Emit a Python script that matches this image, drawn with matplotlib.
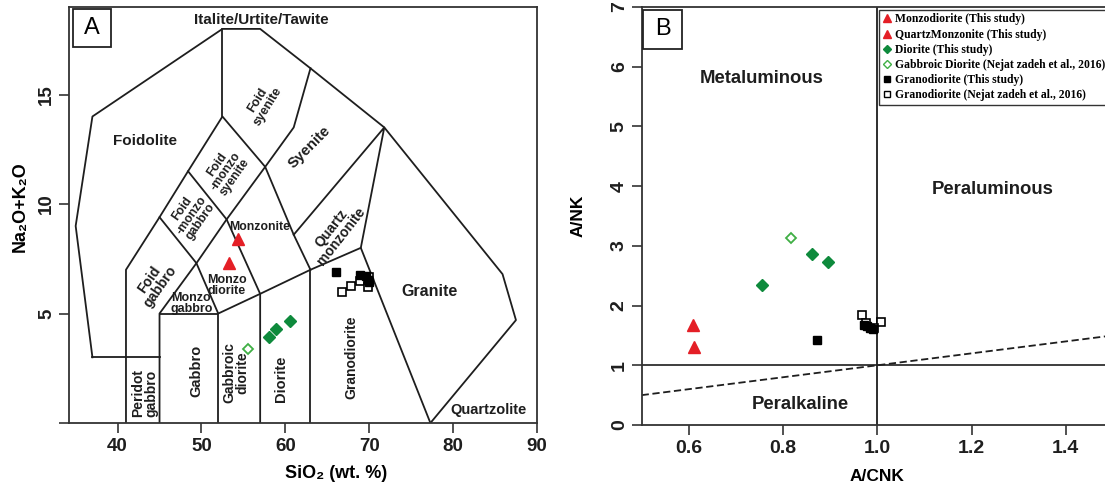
import matplotlib
matplotlib.use("Agg")
from matplotlib import pyplot as plt
from matplotlib.lines import Line2D
from matplotlib.patches import Rectangle

plt.rcParams['font.family'] = ['Liberation Sans', 'DejaVu Sans']
plt.rcParams['font.weight'] = 'bold'
plt.rcParams['axes.labelweight'] = 'bold'

# --- TAS (plutonic) field boundaries, SiO2 vs Na2O+K2O ---
tas_lines = [
    [(37, 3), (35, 9), (37, 14), (52.5, 18), (57, 18), (63, 16.2), (71.8, 13.5), (85.9, 6.8), (87.5, 4.7), (77.3, 0)],
    [(37, 3), (45, 3)],
    [(41, 0), (41, 7), (45, 9.4), (48.4, 11.5), (52.5, 14), (57.6, 11.7), (61, 8.6), (63, 7)],
    [(52.5, 14), (52.5, 18)],
    [(45, 0), (45, 5), (49.4, 7.3), (53, 9.3), (57.6, 11.7), (61, 13.5), (63, 16.2)],
    [(45, 9.4), (49.4, 7.3), (52, 5), (57, 5.9), (63, 7), (69, 8), (77.3, 0)],
    [(48.4, 11.5), (53, 9.3), (57, 5.9), (57, 0)],
    [(45, 5), (52, 5), (52, 0)],
    [(63, 0), (63, 7)],
    [(61, 8.6), (71.8, 13.5), (69, 8)],
]

# field names: text, x, y, rotation, size
tas_names = [
    ("Italite/Urtite/Tawite", 57.1, 18.4, 0, 11),
    ("Foidolite", 43.3, 12.9, 0, 11),
    ("Foid\nsyenite", 57.3, 14.6, 58, 9),
    ("Foid\n-monzo\nsyenite", 52.9, 11.5, 55, 8.8),
    ("Foid\n-monzo\ngabbro", 48.8, 9.5, 55, 8.8),
    ("Foid\ngabbro", 44.4, 6.4, 55, 10),
    ("Syenite", 62.9, 12.6, 45, 10.8),
    ("Monzonite", 56.9, 8.95, 0, 8.8),
    ("Monzo\ndiorite", 53.0, 6.3, 0, 9),
    ("Monzo\ngabbro", 48.8, 5.45, 0, 9),
    ("Quartz\nmonzonite", 66.1, 8.7, 52, 10),
    ("Granite", 77.2, 6.0, 0, 11.5),
    ("Granodiorite", 67.9, 3.0, 90, 10),
    ("Diorite", 59.5, 2.0, 90, 10.5),
    ("Gabbroic\ndiorite", 54.1, 2.3, 90, 10),
    ("Gabbro", 49.4, 2.4, 90, 10.5),
    ("Peridot\ngabbro", 43.2, 1.35, 90, 10),
    ("Quartzolite", 84.2, 0.6, 0, 10.5),
]

# --- samples, panel A (SiO2, Na2O+K2O) ---
mzd_sio2 = [53.3]
mzd_alk = [7.3]
qmz_sio2 = [54.3]
qmz_alk = [8.4]
dio_sio2 = [58.1, 58.9, 60.6]
dio_alk = [3.95, 4.3, 4.65]
gdio_sio2 = [55.5]
gdio_alk = [3.4]
grd_sio2 = [66.0, 68.9, 69.6, 70.0, 69.8]
grd_alk = [6.9, 6.75, 6.7, 6.45, 6.55]
grd_nz_sio2 = [66.8, 67.8, 68.9, 70.0, 69.9]
grd_nz_alk = [6.0, 6.25, 6.5, 6.65, 6.2]

# --- samples, panel B (A/CNK, A/NK) ---
mzd_acnk = [0.611]
mzd_ank = [1.31]
qmz_acnk = [0.608]
qmz_ank = [1.67]
dio_acnk = [0.755, 0.862, 0.896]
dio_ank = [2.35, 2.86, 2.73]
gdio_acnk = [0.816]
gdio_ank = [3.14]
grd_acnk = [0.872, 0.971, 0.978, 0.985, 0.99]
grd_ank = [1.42, 1.68, 1.65, 1.62, 1.60]
grd_nz_acnk = [0.967, 1.008, 0.975, 0.992]
grd_nz_ank = [1.84, 1.73, 1.70, 1.62]

legend_labels = [
    "Monzodiorite (This study)",
    "QuartzMonzonite (This study)",
    "Diorite (This study)",
    "Gabbroic Diorite (Nejat zadeh et al., 2016)",
    "Granodiorite (This study)",
    "Granodiorite (Nejat zadeh et al., 2016)",
]

red = '#e41f26'
green = '#0e8a3c'
lgreen = '#3faf44'
ink = '#1e1e1e'

fig = plt.figure(figsize=(11.05, 4.87), dpi=100)

def style_axes(ax, tick_size):
    for s in ax.spines.values():
        s.set_linewidth(1.3)
        s.set_color('#333333')
    ax.tick_params(direction='out', length=7, width=1.2, colors='#333333', labelsize=tick_size,
                   labelcolor=ink)
    ax.tick_params(axis='y', labelrotation=90, pad=3)
    for lab in ax.get_yticklabels():
        lab.set_va('center')

def panel_tag(ax, letter, x0, y0, w, h):
    ax.add_patch(Rectangle((x0, y0), w, h, transform=ax.transAxes, facecolor='white',
                           edgecolor='#222222', lw=1.3, zorder=5, clip_on=False))
    ax.text(x0 + w / 2, y0 + h / 2, letter, transform=ax.transAxes, ha='center', va='center',
            fontsize=17, fontweight='normal', zorder=6)

# ---------------- panel A: TAS ----------------
axA = fig.add_axes([0.0624, 0.1314, 0.4235, 0.8542])
for seg in tas_lines:
    xs = [p[0] for p in seg]
    ys = [p[1] for p in seg]
    axA.plot(xs, ys, color=ink, lw=1.3, zorder=2)
for name, x, y, rot, size in tas_names:
    axA.text(x, y, name, ha='center', va='center', rotation=rot, fontsize=size,
             linespacing=0.9, color=ink, zorder=3)

axA.plot(mzd_sio2, mzd_alk, '^', color=red, ms=8.5, zorder=4)
axA.plot(qmz_sio2, qmz_alk, '^', color=red, ms=8.5, zorder=4)
axA.plot(dio_sio2, dio_alk, 'D', color=green, ms=6, zorder=4)
axA.plot(gdio_sio2, gdio_alk, 'D', mfc='white', mec=lgreen, mew=1.3, ms=5.5, zorder=4)
axA.plot(grd_nz_sio2, grd_nz_alk, 's', mfc='white', mec='black', mew=1.2, ms=5.5, zorder=4)
axA.plot(grd_sio2, grd_alk, 's', color='black', ms=5.5, zorder=4)

axA.set_xlim(34.2, 90)
axA.set_ylim(0, 19)
axA.set_xticks([40, 50, 60, 70, 80, 90])
axA.set_yticks([0, 5, 10, 15])
axA.set_yticklabels(['', '5', '10', '15'])
style_axes(axA, 13.5)
axA.set_xlabel("SiO₂ (wt. %)", fontsize=13)
axA.xaxis.set_label_coords(0.57, -0.1)
axA.set_ylabel("Na₂O+K₂O", fontsize=13)
axA.yaxis.set_label_coords(-0.085, 0.52)
panel_tag(axA, "A", 0.0085, 0.904, 0.0805, 0.0905)

# ---------------- panel B: Shand ----------------
axB = fig.add_axes([0.5807, 0.1273, 0.4265, 0.8583])
axB.axhline(1, color=ink, lw=1.2, zorder=2)
axB.axvline(1, color=ink, lw=1.3, zorder=2)
axB.plot([0.5, 1.5], [0.5, 1.5], color=ink, lw=1.3, ls=(0, (4, 2)), zorder=2)

axB.text(0.755, 5.8, "Metaluminous", ha='center', va='center', fontsize=13.3, color=ink)
axB.text(1.245, 3.94, "Peraluminous", ha='center', va='center', fontsize=13.3, color=ink)
axB.text(0.837, 0.35, "Peralkaline", ha='center', va='center', fontsize=13.3, color=ink)

axB.plot(mzd_acnk, mzd_ank, '^', color=red, ms=8.5, zorder=4)
axB.plot(qmz_acnk, qmz_ank, '^', color=red, ms=8.5, zorder=4)
axB.plot(dio_acnk, dio_ank, 'D', color=green, ms=6, zorder=4)
axB.plot(gdio_acnk, gdio_ank, 'D', mfc='white', mec=lgreen, mew=1.3, ms=5, zorder=4)
axB.plot(grd_nz_acnk, grd_nz_ank, 's', mfc='white', mec='black', mew=1.2, ms=6, zorder=4)
axB.plot(grd_acnk, grd_ank, 's', color='black', ms=6, zorder=4)

axB.set_xlim(0.5, 1.5)
axB.set_ylim(0, 7)
axB.set_xticks([0.6, 0.8, 1.0, 1.2, 1.4])
axB.set_xticklabels(['0.6', '0.8', '1.0', '1.2', '1.4'])
axB.set_yticks(range(0, 8))
style_axes(axB, 14)
axB.set_xlabel("A/CNK", fontsize=12.5)
axB.xaxis.set_label_coords(0.5, -0.105)
axB.set_ylabel("A/NK", fontsize=12.5)
axB.yaxis.set_label_coords(-0.12, 0.5)
panel_tag(axB, "B", 0.0034, 0.8995, 0.082, 0.0935)

handles = [
    Line2D([], [], marker='^', color=red, ls='none', ms=6),
    Line2D([], [], marker='^', color=red, ls='none', ms=6),
    Line2D([], [], marker='D', color=green, ls='none', ms=4),
    Line2D([], [], marker='D', mfc='white', mec=lgreen, mew=1, ls='none', ms=4),
    Line2D([], [], marker='s', color='black', ls='none', ms=4),
    Line2D([], [], marker='s', mfc='white', mec='black', mew=1, ls='none', ms=4),
]
leg = axB.legend(handles, legend_labels, loc='upper left', bbox_to_anchor=(0.504, 0.993),
                 borderaxespad=0, fancybox=False, framealpha=1, edgecolor='#333333',
                 prop=dict(family='Liberation Serif', weight='bold', size=8.4),
                 handlelength=0.7, handletextpad=0.35, labelspacing=0.27, borderpad=0.3,
                 numpoints=1)
leg.get_frame().set_linewidth(1.0)

fig.savefig("out.png", dpi=100, facecolor='white')
